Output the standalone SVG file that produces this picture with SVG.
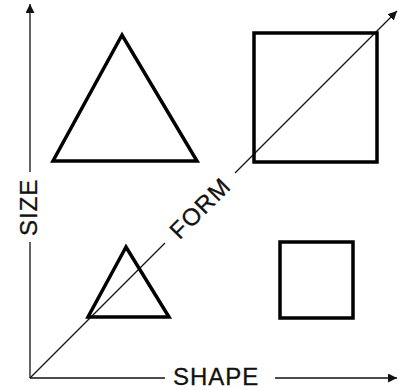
<svg xmlns="http://www.w3.org/2000/svg" width="399" height="390" viewBox="0 0 399 390">
<style>
.axis{stroke:#111;stroke-width:1.3;fill:none}
.shape{stroke:#000;stroke-width:3.5;fill:none;stroke-linejoin:miter}
.lbl{font-family:"Liberation Sans",Arial,sans-serif;font-size:24px;letter-spacing:1px;fill:#111;stroke:#111;stroke-width:0.3}
</style>
<defs>
<marker id="ah" viewBox="0 0 10 10" refX="10" refY="5" markerWidth="9" markerHeight="9" markerUnits="userSpaceOnUse" orient="auto">
<path d="M0,0 L10,5 L0,10 Z" fill="#111"/>
</marker>
</defs>
<rect width="399" height="390" fill="#fff"/>
<g id="connectors">
<line class="axis" x1="30" y1="172" x2="30" y2="4" marker-end="url(#ah)"/>
<line class="axis" x1="30" y1="378" x2="30" y2="242"/>
<line class="axis" x1="30" y1="378" x2="165" y2="378"/>
<line class="axis" x1="275" y1="378" x2="397" y2="378" marker-end="url(#ah)"/>
<line class="axis" x1="30" y1="378" x2="165" y2="243"/>
<line class="axis" x1="235" y1="173" x2="397" y2="11" marker-end="url(#ah)"/>
</g>
<g id="label-size"><text class="lbl" transform="translate(37,236) rotate(-90)">SIZE</text></g>
<g id="label-shape"><text class="lbl" x="173" y="385">SHAPE</text></g>
<g id="label-form"><text class="lbl" text-anchor="middle" transform="translate(206,214) rotate(-45)">FORM</text></g>
<g id="big-triangle"><polygon class="shape" points="122,35 53,161 197,161"/></g>
<g id="big-square"><rect class="shape" x="254" y="33" width="123" height="129"/></g>
<g id="small-triangle"><polygon class="shape" points="126,247 88,317 169,317"/></g>
<g id="small-square"><rect class="shape" x="280" y="242" width="73" height="76"/></g>
</svg>
